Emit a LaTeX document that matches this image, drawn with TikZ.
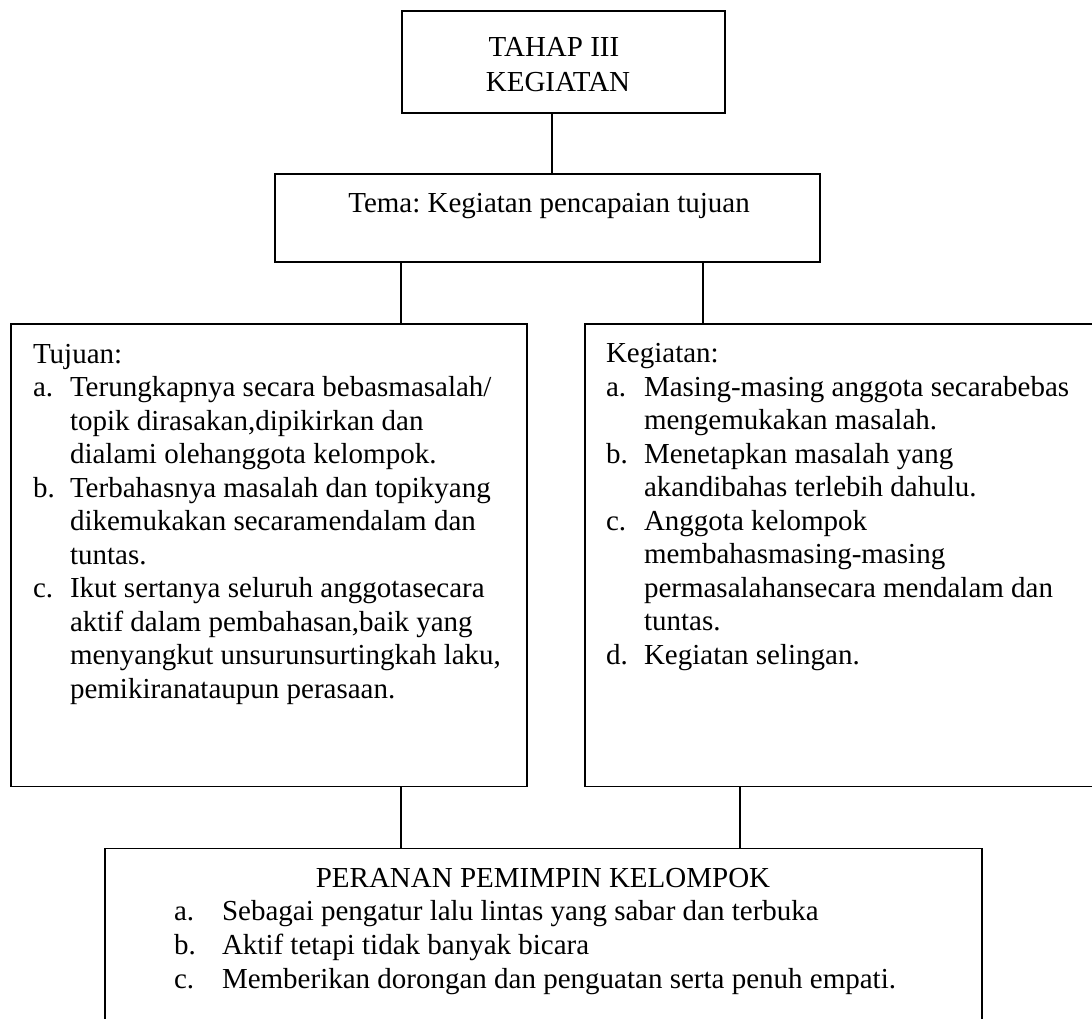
\documentclass[tikz,border=0pt]{standalone}
\usepackage{fontspec}
\setmainfont{Liberation Serif}
\begin{document}
\frenchspacing
\begin{tikzpicture}[x=1pt,y=-1pt,
  box/.style={draw=black,line width=1.8pt,rectangle,inner sep=0pt,outer sep=0pt},
  conn/.style={draw=black,line width=1.4pt},
  txt/.style={inner sep=0pt,outer sep=0pt,font=\fontsize{29}{34}\selectfont},
  lbl/.style={txt,anchor=base west},
  ctr/.style={txt,anchor=base}]
\useasboundingbox (0,0) rectangle (1092,1019);
% boxes
\node[box,minimum width=323pt,minimum height=102pt] (top) at (563.5,62) {};
\node[box,minimum width=545pt,minimum height=88pt] (tema) at (547.5,218) {};
\node[box,minimum width=516pt,minimum height=462.5pt] (left) at (269,555.25) {};
\node[box,minimum width=520pt,minimum height=462.5pt] (right) at (845,555.25) {};
\node[box,minimum width=877pt,minimum height=190pt] (bottom) at (543.5,943.5) {};
% connectors
\draw[conn] (top.south -| 552,0) -- (tema.north -| 552,0);
\draw[conn] (tema.south -| 401,0) -- (left.north -| 401,0);
\draw[conn] (tema.south -| 703,0) -- (right.north -| 703,0);
\draw[conn] (left.south -| 401,0) -- (bottom.north -| 401,0);
\draw[conn] (right.south -| 740,0) -- (bottom.north -| 740,0);
% top text
\node[ctr] (t1) at (554,57) {TAHAP III};
\node[ctr] (t2) at (558,92) {KEGIATAN};
\node[ctr] (tm) at (549,213) {Tema: Kegiatan pencapaian tujuan};
% left box text
\node[lbl] (L0) at (33,363) {Tujuan:};
\node[lbl] (La) at (33,396.5) {a.};
\node[lbl] (L1) at (70,396.5) {Terungkapnya secara bebasmasalah/};
\node[lbl] (L2) at (70,430) {topik dirasakan,dipikirkan dan};
\node[lbl] (L3) at (70,463.5) {dialami olehanggota kelompok.};
\node[lbl] (Lb) at (33,497) {b.};
\node[lbl] (L4) at (70,497) {Terbahasnya masalah dan topikyang};
\node[lbl] (L5) at (70,530.5) {dikemukakan secaramendalam dan};
\node[lbl] (L6) at (70,564) {tuntas.};
\node[lbl] (Lc) at (33,597.5) {c.};
\node[lbl] (L7) at (70,597.5) {Ikut sertanya seluruh anggotasecara};
\node[lbl] (L8) at (70,631) {aktif dalam pembahasan,baik yang};
\node[lbl] (L9) at (70,664.5) {menyangkut unsurunsurtingkah laku,};
\node[lbl] (L10) at (70,698) {pemikiranataupun perasaan.};
% right box text
\node[lbl] (R0) at (606,362.5) {Kegiatan:};
\node[lbl] (Ra) at (606,396) {a.};
\node[lbl] (R1) at (644,396) {Masing-masing anggota secarabebas};
\node[lbl] (R2) at (644,429.5) {mengemukakan masalah.};
\node[lbl] (Rb) at (606,463) {b.};
\node[lbl] (R3) at (644,463) {Menetapkan masalah yang};
\node[lbl] (R4) at (644,496.5) {akandibahas terlebih dahulu.};
\node[lbl] (Rc) at (606,530) {c.};
\node[lbl] (R5) at (644,530) {Anggota kelompok};
\node[lbl] (R6) at (644,563.5) {membahasmasing-masing};
\node[lbl] (R7) at (644,597) {permasalahansecara mendalam dan};
\node[lbl] (R8) at (644,630.5) {tuntas.};
\node[lbl] (Rd) at (606,664) {d.};
\node[lbl] (R9) at (644,664) {Kegiatan selingan.};
% bottom box text
\node[ctr] (B0) at (543,887) {PERANAN PEMIMPIN KELOMPOK};
\node[lbl] (Ba) at (174,920) {a.};
\node[lbl] (B1) at (222,920) {Sebagai pengatur lalu lintas yang sabar dan terbuka};
\node[lbl] (Bb) at (174,954) {b.};
\node[lbl] (B2) at (222,954) {Aktif tetapi tidak banyak bicara};
\node[lbl] (Bc) at (174,988) {c.};
\node[lbl] (B3) at (222,988) {Memberikan dorongan dan penguatan serta penuh empati.};
\end{tikzpicture}
\end{document}
